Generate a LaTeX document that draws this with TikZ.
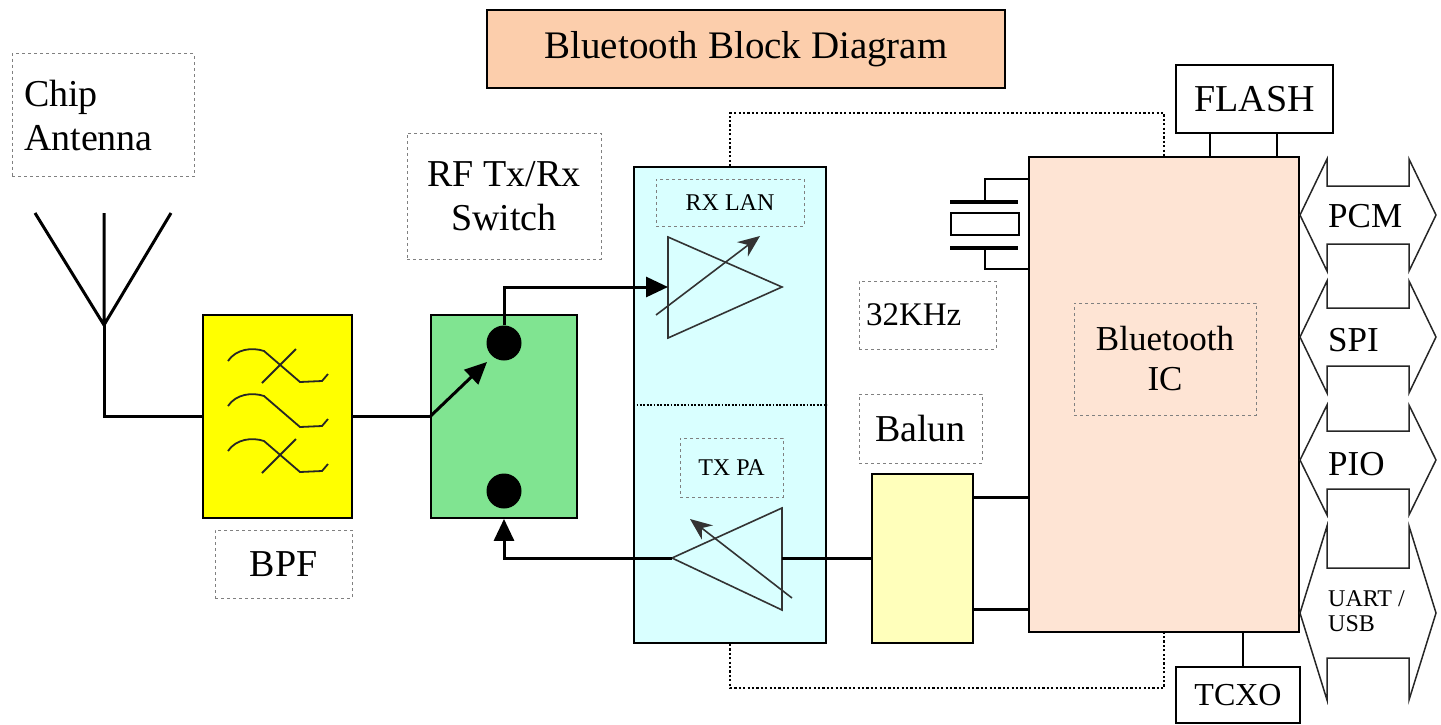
\documentclass[tikz,border=0pt]{standalone}
\usepackage{fontspec}
\setmainfont{Liberation Serif}
\usetikzlibrary{arrows.meta}
\definecolor{titlepeach}{RGB}{252,206,172}
\definecolor{icpeach}{RGB}{254,228,212}
\definecolor{lnacyan}{RGB}{217,255,255}
\definecolor{swgreen}{RGB}{128,228,145}
\definecolor{bpfyellow}{RGB}{255,255,0}
\definecolor{balunyellow}{RGB}{255,255,187}
\tikzset{
  blk/.style={draw,line width=1.8pt,inner sep=0pt},
  lbl/.style={draw=gray,line width=1pt,dash pattern=on 3pt off 3pt,inner sep=0pt},
  conn/.style={line width=3pt},
  tip/.style={-{Triangle[length=22pt,width=20pt]}},
  amp/.style={draw=black!80,line width=1.6pt},
  filt/.style={line width=1.8pt,draw=black!85},
  encl/.style={line width=2.4pt,dash pattern=on 2.2pt off 2.2pt},
  bus/.style={line width=1.5pt,draw=black!85},
  dot/.style={circle,fill,minimum size=35pt,inner sep=0pt},
  txt/.style={font=\fontsize{38}{44}\selectfont},
  midtxt/.style={font=\fontsize{35}{40}\selectfont},
  small/.style={font=\fontsize{24}{25}\selectfont},
}
\begin{document}
\begin{tikzpicture}[x=1pt,y=-1pt]
\useasboundingbox (0,0) rectangle (1441,724);
% title
\node[blk,fill=titlepeach,minimum width=518,minimum height=78,font=\fontsize{39}{44}\selectfont] (title) at (746,49) {Bluetooth Block Diagram};
% antenna and filter
\node[lbl,txt,minimum width=182,minimum height=123,text width=158,align=left] (antlbl) at (103,115) {Chip\\Antenna};
\node[blk,fill=bpfyellow,minimum width=149,minimum height=203] (bpf) at (277.5,416.5) {};
\node[lbl,txt,minimum width=137,minimum height=68] (bpflbl) at (283.5,564) {BPF};
\coordinate (ant) at (104,325);
\draw[conn] (35,213) -- (ant) -- (171,213) (104,213) -- (ant);
\draw[conn] (ant) |- (bpf.west);
\foreach \dy in {0,45,90}
  \draw[filt,shift={(0,\dy)}] (228,361) .. controls (236,349) and (252,347) .. (264,351) -- (300,382) -- (322,381) -- (328,374);
\foreach \dy in {0,90}
  \draw[filt,shift={(0,\dy)}] (262,383) -- (296,349);
% switch
\node[lbl,txt,minimum width=194,minimum height=126,align=center] (swlbl) at (504,196) {RF Tx/Rx\\Switch};
\node[blk,fill=swgreen,minimum width=146,minimum height=203] (sw) at (504,416.5) {};
\node[dot] (dot1) at (504,343) {};
\node[dot] (dot2) at (504,491) {};
\coordinate (arm) at (487,362);
\draw[conn] (bpf.east) -- (sw.west);
\draw[conn,tip] (sw.west) -- (arm);
% rx / tx amplifiers
\node[blk,fill=lnacyan,minimum width=192,minimum height=476] (lna) at (730,405) {};
\draw[line width=1.8pt,dash pattern=on 1.8pt off 1.6pt] (lna.west) -- (lna.east);
\node[lbl,small,minimum width=148,minimum height=47] (rxlbl) at (730,202.5) {RX LAN};
\node[lbl,small,minimum width=103,minimum height=59] (txlbl) at (731.5,467.5) {TX PA};
\coordinate (rxin) at (668,287);
\coordinate (rxout) at (782,287);
\draw[amp] (668,237) -- (rxout) -- (668,338) -- cycle;
\draw[amp,-{Stealth[length=22pt,width=18pt]}] (656,315) -- (760,236);
\coordinate (txout) at (672,558);
\coordinate (txin) at (782,558);
\draw[amp] (txout) -- (782,508) -- (782,610) -- cycle;
\draw[amp,-{Stealth[length=22pt,width=18pt]}] (792,598) -- (690,519);
\draw[conn,tip] (dot1) |- (rxin);
\draw[conn,tip] (txout) -| (sw.south);
% balun, crystal
\node[lbl,font=\fontsize{33}{38}\selectfont,minimum width=137,minimum height=68,text width=123,align=left] (clklbl) at (927.5,315) {32KHz};
\node[lbl,txt,minimum width=123,minimum height=69] (balunlbl) at (920.5,428.5) {Balun};
\node[blk,fill=balunyellow,minimum width=101,minimum height=169] (balun) at (922.5,558.5) {};
\node[blk,fill=icpeach,minimum width=270,minimum height=475] (ic) at (1164,394.5) {};
\node[lbl,midtxt,minimum width=182,minimum height=112,align=center] (iclbl) at (1165,359) {Bluetooth\\IC};
\draw[conn] (txin) -- (balun.west |- txin);
\draw[conn] (balun.east |- 0,497) -- (ic.west |- 0,497);
\draw[conn] (balun.east |- 0,609) -- (ic.west |- 0,609);
\draw[line width=4.5pt] (950,202) -- (1018,202) (950,248) -- (1018,248);
\draw[line width=1.8pt] (951,213) rectangle (1019,235);
\draw[line width=1.8pt] (985,202) |- (ic.west |- 0,179);
\draw[line width=1.8pt] (985,248) |- (ic.west |- 0,269);
% flash, tcxo
\node[blk,txt,fill=white,minimum width=157,minimum height=68] (flash) at (1254.5,99) {FLASH};
\node[blk,font=\fontsize{32}{36}\selectfont,minimum width=124,minimum height=56] (tcxo) at (1238,695) {TCXO};
\draw[line width=1.8pt] (flash.south -| 1210,0) -- (ic.north -| 1210,0);
\draw[line width=1.8pt] (flash.south -| 1277,0) -- (ic.north -| 1277,0);
\draw[line width=1.8pt] (ic.south -| 1243,0) -- (tcxo.north -| 1243,0);
% enclosure
\coordinate (enctop) at (1164,113);
\coordinate (encbot) at (1164,688);
\draw[encl] (lna.north) |- (enctop) -- (ic.north);
\draw[encl] (lna.south) |- (encbot) -- (ic.south);
% interfaces
\foreach \c/\h/\s in {215/56/29,337/56/29,460/55/29,613/87/45}
  \draw[bus] (1300,\c) -- (1327,{\c-\h}) -- (1327,{\c-\s}) -- (1409,{\c-\s}) -- (1409,{\c-\h}) -- (1436,\c)
    -- (1409,{\c+\h}) -- (1409,{\c+\s}) -- (1327,{\c+\s}) -- (1327,{\c+\h}) -- cycle;
\node[midtxt,anchor=west,inner sep=0pt] (pcm) at (1328,216) {PCM};
\node[midtxt,anchor=west,inner sep=0pt] (spi) at (1328,340) {SPI};
\node[midtxt,anchor=west,inner sep=0pt] (pio) at (1328,464) {PIO};
\node[small,anchor=west,inner sep=0pt,align=left] (uart) at (1328,611) {UART /\\USB};
\end{tikzpicture}
\end{document}
